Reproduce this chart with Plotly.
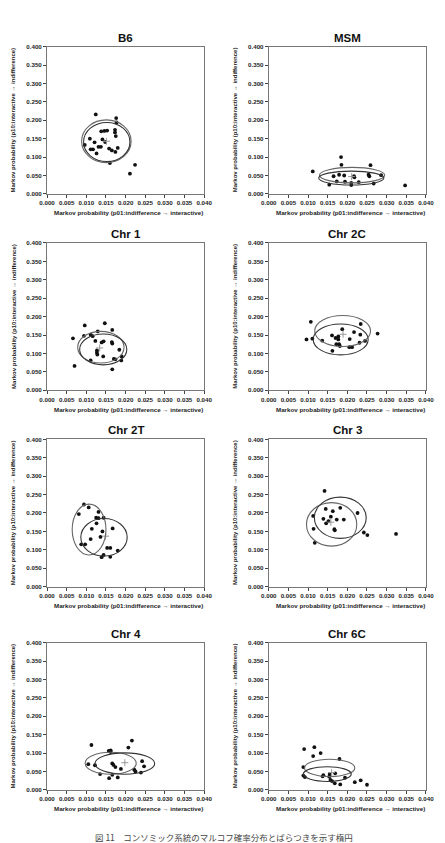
import plotly.graph_objects as go
import numpy as np

W, H = 445, 843

titles = ["B6", "MSM", "Chr 1", "Chr 2C", "Chr 2T", "Chr 3", "Chr 4", "Chr 6C"]
x_ticks = [0.000, 0.005, 0.010, 0.015, 0.020, 0.025, 0.030, 0.035, 0.040]
y_ticks = [0.000, 0.050, 0.100, 0.150, 0.200, 0.250, 0.300, 0.350, 0.400]
x_label = "Markov probability (p01:indifference \u2192 interactive)"
y_label = "Markov probability (p10:interactive \u2192 indifference)"
caption = "図 11　コンソミック系統のマルコフ確率分布とばらつきを示す楕円"

# ---- data ----
b6_x = [0.0124, 0.0176, 0.0177, 0.0138, 0.0146, 0.0153, 0.0173, 0.0173, 0.0175, 0.0109, 0.0121,
        0.0141, 0.0148, 0.0096, 0.0111, 0.0117, 0.0131, 0.0137, 0.0158, 0.0165, 0.0174, 0.0180,
        0.0126, 0.0160, 0.0224, 0.0211]
b6_y = [0.216, 0.206, 0.194, 0.170, 0.171, 0.172, 0.174, 0.167, 0.157, 0.150, 0.140,
        0.148, 0.141, 0.133, 0.121, 0.121, 0.128, 0.128, 0.123, 0.118, 0.114, 0.125,
        0.110, 0.084, 0.079, 0.055]

msm_x = [0.0112, 0.0184, 0.0185, 0.0259, 0.0165, 0.0179, 0.0192, 0.0217, 0.0218, 0.0254, 0.0256,
         0.0286, 0.0154, 0.0173, 0.0194, 0.0210, 0.0210, 0.0229, 0.0267, 0.0347]
msm_y = [0.061, 0.100, 0.079, 0.078, 0.048, 0.052, 0.050, 0.048, 0.045, 0.052, 0.048,
         0.051, 0.025, 0.034, 0.033, 0.030, 0.024, 0.032, 0.028, 0.023]

chr1_x = [0.0096, 0.0147, 0.0066, 0.0094, 0.0111, 0.0116, 0.0129, 0.0166, 0.0123, 0.0139, 0.0144,
          0.0165, 0.0166, 0.0127, 0.0127, 0.0128, 0.0143, 0.0184, 0.0170, 0.0174, 0.0189, 0.0190,
          0.0111, 0.0070, 0.0166]
chr1_y = [0.176, 0.182, 0.141, 0.148, 0.151, 0.147, 0.160, 0.164, 0.134, 0.130, 0.133,
          0.131, 0.127, 0.108, 0.102, 0.097, 0.092, 0.110, 0.085, 0.084, 0.081, 0.092,
          0.081, 0.066, 0.057]

chr2c_x = [0.0107, 0.0096, 0.0111, 0.0136, 0.0161, 0.0187, 0.0234, 0.0217, 0.0233, 0.0277, 0.0170,
           0.0177, 0.0177, 0.0179, 0.0172, 0.0181, 0.0206, 0.0205, 0.0212, 0.0245, 0.0231, 0.0162]
chr2c_y = [0.186, 0.138, 0.140, 0.135, 0.149, 0.166, 0.180, 0.158, 0.151, 0.154, 0.142,
           0.146, 0.138, 0.125, 0.125, 0.120, 0.139, 0.117, 0.117, 0.134, 0.129, 0.107]

chr2t_x = [0.0094, 0.0106, 0.0081, 0.0131, 0.0125, 0.0131, 0.0144, 0.0126, 0.0114, 0.0167, 0.0141,
           0.0136, 0.0111, 0.0087, 0.0097, 0.0153, 0.0161, 0.0180, 0.0144, 0.0139, 0.0161]
chr2t_y = [0.223, 0.215, 0.197, 0.203, 0.187, 0.186, 0.187, 0.172, 0.157, 0.158, 0.150,
           0.135, 0.129, 0.115, 0.115, 0.105, 0.105, 0.098, 0.086, 0.080, 0.081]

chr3_x = [0.0142, 0.0145, 0.0163, 0.0182, 0.0226, 0.0113, 0.0158, 0.0139, 0.0173, 0.0191, 0.0152,
          0.0146, 0.0167, 0.0168, 0.0114, 0.0242, 0.0251, 0.0324, 0.0117]
chr3_y = [0.260, 0.211, 0.205, 0.214, 0.200, 0.192, 0.190, 0.184, 0.182, 0.182, 0.178,
          0.172, 0.156, 0.153, 0.157, 0.147, 0.140, 0.143, 0.119]

chr4_x = [0.0113, 0.0216, 0.0207, 0.0157, 0.0162, 0.0162, 0.0105, 0.0122, 0.0166, 0.0169, 0.0174,
          0.0188, 0.0242, 0.0247, 0.0222, 0.0225, 0.0239, 0.0135, 0.0166, 0.0158, 0.0180]
chr4_y = [0.122, 0.134, 0.115, 0.106, 0.107, 0.103, 0.070, 0.067, 0.072, 0.068, 0.062,
          0.057, 0.078, 0.064, 0.055, 0.050, 0.047, 0.043, 0.041, 0.032, 0.034]

chr6c_x = [0.0090, 0.0116, 0.0113, 0.0132, 0.0180, 0.0088, 0.0088, 0.0092, 0.0137, 0.0139, 0.0155,
           0.0154, 0.0169, 0.0157, 0.0161, 0.0168, 0.0182, 0.0194, 0.0219, 0.0234, 0.0250]
chr6c_y = [0.111, 0.116, 0.092, 0.100, 0.084, 0.062, 0.039, 0.035, 0.037, 0.040, 0.043,
           0.036, 0.045, 0.027, 0.024, 0.018, 0.015, 0.033, 0.021, 0.026, 0.014]

# ellipse parameters per panel: [cx, cy, rx, ry] for the two ellipses
ellipse_a = [[0.0151, 0.143, 0.0063, 0.058], [0.0212, 0.051, 0.0083, 0.021],
             [0.0137, 0.117, 0.0059, 0.043], [0.0188, 0.161, 0.0071, 0.042],
             [0.0107, 0.155, 0.0043, 0.069], [0.0160, 0.169, 0.0064, 0.059],
             [0.0162, 0.0725, 0.0065, 0.030], [0.0155, 0.0597, 0.0064, 0.0235]]
ellipse_b = [[0.0152, 0.141, 0.0059, 0.053], [0.0210, 0.043, 0.0083, 0.019],
             [0.0143, 0.111, 0.0060, 0.042], [0.0183, 0.138, 0.0070, 0.042],
             [0.0145, 0.134, 0.0059, 0.051], [0.0182, 0.187, 0.0066, 0.056],
             [0.0198, 0.0716, 0.0076, 0.029], [0.0149, 0.043, 0.0061, 0.020]]
centers = [[0.0151, 0.143], [0.0211, 0.047], [0.0134, 0.115], [0.0189, 0.152],
           [0.0149, 0.137], [0.0158, 0.175], [0.0198, 0.074], [0.0160, 0.047]]

xs = [b6_x, msm_x, chr1_x, chr2c_x, chr2t_x, chr3_x, chr4_x, chr6c_x]
ys = [b6_y, msm_y, chr1_y, chr2c_y, chr2t_y, chr3_y, chr4_y, chr6c_y]

# ---- layout geometry (pixels) ----
col_lr = [(40.5, 203.5), (270.5, 433.5)]
row_tops = [43, 241, 439, 644]
plot_h = 148.5

FONT = "Liberation Sans, Arial, sans-serif"
fig = go.Figure()
layout = dict(width=W, height=H, margin=dict(l=0, r=0, t=0, b=0),
              paper_bgcolor="white", plot_bgcolor="white", showlegend=False)
annotations = []
shapes = []

for i in range(8):
    r, c = divmod(i, 2)
    l, rr = col_lr[c]
    t = row_tops[r]
    b = t + plot_h
    n = "" if i == 0 else str(i + 1)
    xa, ya = "x" + n, "y" + n
    layout["xaxis" + n] = dict(
        domain=[l / W, rr / W], anchor=ya, range=[0, 0.04],
        tickvals=x_ticks, ticktext=["%.3f" % v for v in x_ticks],
        tickfont=dict(family=FONT, size=6.2, color="#222", weight="bold"),
        showline=True, mirror=True, linecolor="#777", linewidth=1,
        ticks="outside", ticklen=3, tickcolor="#444",
        showgrid=False, zeroline=False, fixedrange=True)
    layout["yaxis" + n] = dict(
        domain=[1 - b / H, 1 - t / H], anchor=xa, range=[0, 0.4],
        tickvals=y_ticks, ticktext=["%.3f" % v for v in y_ticks],
        tickfont=dict(family=FONT, size=6.2, color="#222", weight="bold"),
        showline=True, mirror=True, linecolor="#777", linewidth=1,
        ticks="outside", ticklen=3, tickcolor="#444",
        showgrid=False, zeroline=False, fixedrange=True)

    fig.add_trace(go.Scatter(x=xs[i], y=ys[i], mode="markers", xaxis=xa, yaxis=ya,
                             marker=dict(size=3.8, color="#111")))
    fig.add_trace(go.Scatter(x=[centers[i][0]], y=[centers[i][1]], mode="markers",
                             xaxis=xa, yaxis=ya,
                             marker=dict(symbol="cross-thin", size=5,
                                         line=dict(width=1, color="#999"))))
    for e, col in ((ellipse_a[i], "#666"), (ellipse_b[i], "#333")):
        cx, cy, rx, ry = e
        shapes.append(dict(type="circle", xref=xa, yref=ya,
                           x0=cx - rx, x1=cx + rx, y0=cy - ry, y1=cy + ry,
                           line=dict(color=col, width=1.1)))

    # panel title
    annotations.append(dict(text=titles[i], x=(l + rr) / 2 / W, y=1 - (t - 9) / H,
                            xref="paper", yref="paper", showarrow=False,
                            xanchor="center", yanchor="middle",
                            font=dict(family=FONT, size=11.5, color="#111", weight="bold")))
    # x axis title
    annotations.append(dict(text=x_label, x=(l + rr) / 2 / W + 3 / W, y=1 - (b + 19) / H,
                            xref="paper", yref="paper", showarrow=False,
                            xanchor="center", yanchor="middle",
                            font=dict(family=FONT, size=6.2, color="#222", weight="bold")))
    # y axis title
    annotations.append(dict(text=y_label, x=(l - 35) / W, y=1 - (t + b) / 2 / H,
                            xref="paper", yref="paper", showarrow=False, textangle=-90,
                            xanchor="center", yanchor="middle",
                            font=dict(family=FONT, size=6, color="#222", weight="bold")))

annotations.append(dict(text=caption, x=224 / W, y=1 - 840 / H, xref="paper", yref="paper",
                        showarrow=False, xanchor="center", yanchor="middle",
                        font=dict(family="Noto Sans CJK JP", size=8.5, color="#444")))

layout["annotations"] = annotations
layout["shapes"] = shapes
fig.update_layout(**layout)
fig.write_html("out.html")
